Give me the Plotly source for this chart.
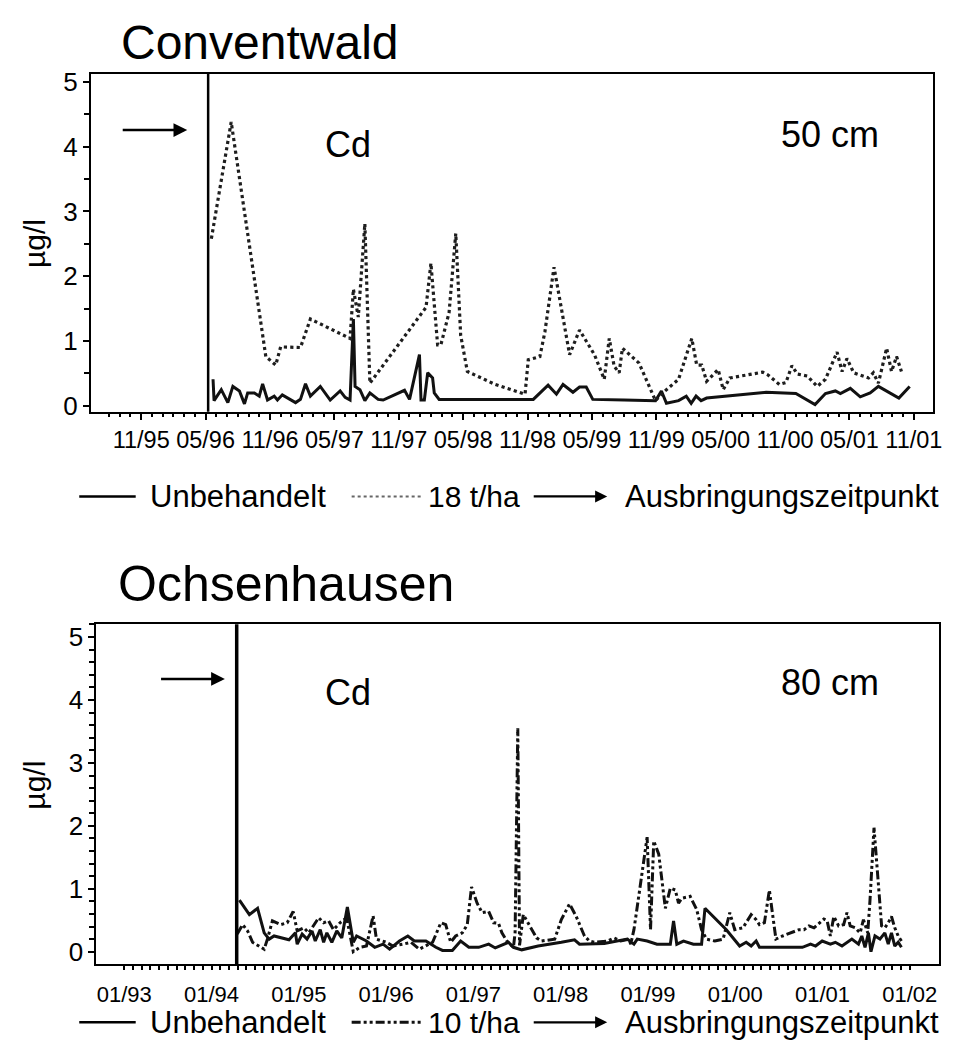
import plotly.graph_objects as go

# ---------------- data (decimal years, µg/l) ----------------
# Conventwald, 50 cm
cw_x_unbeh = [1996.391, 1996.399, 1996.455, 1996.506, 1996.545, 1996.596, 1996.635, 1996.660, 1996.712, 1996.750,
              1996.776, 1996.814, 1996.866, 1996.891, 1996.929, 1997.032, 1997.070, 1997.109, 1997.147, 1997.224,
              1997.301, 1997.378, 1997.417, 1997.455, 1997.481, 1997.494, 1997.532, 1997.570, 1997.609, 1997.673,
              1997.712, 1997.878, 1997.917, 1997.994, 1998.006, 1998.032, 1998.058, 1998.096, 1998.109, 1998.147,
              1998.878, 1998.993, 1999.058, 1999.109, 1999.186, 1999.237, 1999.289, 1999.340, 1999.583, 1999.827,
              1999.873, 1999.912, 2000.006, 2000.066, 2000.104, 2000.142, 2000.181, 2000.224, 2000.686, 2000.917,
              2001.066, 2001.147, 2001.224, 2001.263, 2001.340, 2001.417, 2001.494, 2001.558, 2001.717, 2001.801]
cw_y_unbeh = [0.41, 0.08, 0.25, 0.05, 0.30, 0.23, 0.03, 0.20, 0.20, 0.15,
              0.34, 0.09, 0.15, 0.09, 0.17, 0.05, 0.10, 0.34, 0.15, 0.30,
              0.09, 0.23, 0.13, 0.09, 1.34, 0.30, 0.25, 0.08, 0.20, 0.10,
              0.09, 0.24, 0.10, 0.79, 0.09, 0.09, 0.51, 0.43, 0.20, 0.10,
              0.10, 0.32, 0.18, 0.33, 0.21, 0.29, 0.29, 0.10, 0.09, 0.08,
              0.23, 0.04, 0.08, 0.15, 0.04, 0.15, 0.08, 0.12, 0.21, 0.19,
              0.02, 0.19, 0.23, 0.19, 0.27, 0.14, 0.20, 0.30, 0.12, 0.30]

cw_x_18 = [1996.378, 1996.532, 1996.801, 1996.878, 1996.916, 1997.070, 1997.147, 1997.455, 1997.481, 1997.519,
           1997.570, 1997.609, 1998.045, 1998.083, 1998.135, 1998.160, 1998.224, 1998.276, 1998.314, 1998.366,
           1998.583, 1998.737, 1998.814, 1998.839, 1998.929, 1998.968, 1999.039, 1999.160, 1999.237, 1999.353,
           1999.429, 1999.468, 1999.506, 1999.545, 1999.570, 1999.699, 1999.827, 1999.878, 2000.006, 2000.109,
           2000.147, 2000.186, 2000.224, 2000.314, 2000.353, 2000.404, 2000.660, 2000.699, 2000.789, 2000.840,
           2000.886, 2000.929, 2001.006, 2001.083, 2001.147, 2001.237, 2001.276, 2001.314, 2001.366, 2001.481,
           2001.519, 2001.558, 2001.622, 2001.660, 2001.699, 2001.737]
cw_y_18 = [2.58, 4.38, 0.76, 0.63, 0.91, 0.90, 1.34, 1.04, 1.80, 1.37,
           2.81, 0.35, 1.52, 2.20, 0.94, 0.94, 1.44, 2.66, 1.09, 0.53,
           0.33, 0.23, 0.18, 0.71, 0.76, 1.14, 2.14, 0.79, 1.17, 0.79,
           0.41, 1.04, 0.61, 0.51, 0.89, 0.66, 0.08, 0.19, 0.41, 1.04,
           0.63, 0.63, 0.38, 0.56, 0.25, 0.43, 0.52, 0.48, 0.33, 0.36,
           0.62, 0.49, 0.46, 0.30, 0.41, 0.83, 0.53, 0.73, 0.51, 0.43,
           0.51, 0.35, 0.89, 0.53, 0.76, 0.53]

cw_application = 1996.353
cw_tick_pos = [1995.8333, 1996.3333, 1996.8333, 1997.3333, 1997.8333, 1998.3333, 1998.8333,
               1999.3333, 1999.8333, 2000.3333, 2000.8333, 2001.3333, 2001.8333]
cw_tick_labels = ["11/95", "05/96", "11/96", "05/97", "11/97", "05/98", "11/98",
                  "05/99", "11/99", "05/00", "11/00", "05/01", "11/01"]

# Ochsenhausen, 80 cm
oh_x_unbeh = [1994.319, 1994.433, 1994.527, 1994.603, 1994.660, 1994.716, 1994.887, 1994.961, 1994.981, 1995.038,
              1995.094, 1995.151, 1995.188, 1995.245, 1995.284, 1995.321, 1995.378, 1995.435, 1995.492, 1995.556,
              1995.624, 1995.662, 1995.775, 1995.870, 1995.965, 1996.040, 1996.153, 1996.249, 1996.324, 1996.456,
              1996.570, 1996.646, 1996.759, 1996.854, 1996.948, 1997.061, 1997.175, 1997.251, 1997.402, 1997.459,
              1997.554, 1997.742, 1998.008, 1998.159, 1998.216, 1998.500, 1998.764, 1998.840, 1998.878, 1998.991,
              1999.104, 1999.257, 1999.294, 1999.331, 1999.408, 1999.521, 1999.615, 1999.654, 1999.899, 1999.975,
              2000.051, 2000.126, 2000.183, 2000.240, 2000.278, 2000.770, 2000.864, 2000.921, 2000.997, 2001.091,
              2001.148, 2001.224, 2001.337, 2001.413, 2001.451, 2001.488, 2001.527, 2001.556, 2001.602, 2001.659,
              2001.715, 2001.754, 2001.791, 2001.829, 2001.868, 2001.905]
oh_y_unbeh = [0.82, 0.59, 0.69, 0.30, 0.20, 0.25, 0.19, 0.30, 0.12, 0.28,
              0.20, 0.33, 0.17, 0.35, 0.15, 0.30, 0.15, 0.33, 0.22, 0.71,
              0.15, 0.25, 0.17, 0.07, 0.12, 0.04, 0.17, 0.25, 0.17, 0.17,
              0.07, 0.02, 0.02, 0.17, 0.07, 0.07, 0.12, 0.06, 0.15, 0.07,
              0.03, 0.09, 0.15, 0.19, 0.12, 0.13, 0.20, 0.12, 0.20, 0.17,
              0.12, 0.12, 0.49, 0.12, 0.17, 0.12, 0.12, 0.69, 0.35, 0.22,
              0.09, 0.15, 0.09, 0.17, 0.07, 0.07, 0.12, 0.09, 0.17, 0.12,
              0.15, 0.09, 0.20, 0.12, 0.25, 0.07, 0.30, 0.00, 0.25, 0.20,
              0.30, 0.12, 0.30, 0.09, 0.15, 0.07]

oh_x_10 = [1994.294, 1994.356, 1994.413, 1994.470, 1994.603, 1994.640, 1994.697, 1994.791, 1994.867, 1994.935,
           1994.981, 1995.057, 1995.114, 1995.227, 1995.284, 1995.341, 1995.397, 1995.472, 1995.548, 1995.624,
           1995.699, 1995.775, 1995.851, 1995.889, 1996.002, 1996.078, 1996.192, 1996.286, 1996.380, 1996.456,
           1996.533, 1996.627, 1996.683, 1996.740, 1996.797, 1996.873, 1996.930, 1996.979, 1997.043, 1997.100,
           1997.175, 1997.232, 1997.288, 1997.327, 1997.384, 1997.459, 1997.478, 1997.509, 1997.529, 1997.572,
           1997.611, 1997.724, 1997.781, 1997.932, 1998.008, 1998.102, 1998.178, 1998.273, 1998.329, 1998.386,
           1998.537, 1998.613, 1998.689, 1998.783, 1998.803, 1998.840, 1998.897, 1998.991, 1999.030, 1999.067,
           1999.124, 1999.200, 1999.257, 1999.314, 1999.351, 1999.388, 1999.484, 1999.559, 1999.615, 1999.672,
           1999.767, 1999.862, 1999.938, 1999.995, 2000.089, 2000.183, 2000.240, 2000.278, 2000.335, 2000.392,
           2000.429, 2000.467, 2000.543, 2000.732, 2000.789, 2000.846, 2000.903, 2001.016, 2001.054, 2001.091,
           2001.130, 2001.186, 2001.243, 2001.281, 2001.318, 2001.375, 2001.432, 2001.470, 2001.519, 2001.545,
           2001.591, 2001.641, 2001.678, 2001.715, 2001.754, 2001.791, 2001.829, 2001.868, 2001.905]
oh_y_10 = [0.28, 0.43, 0.33, 0.15, 0.04, 0.20, 0.49, 0.43, 0.46, 0.64,
           0.33, 0.38, 0.30, 0.54, 0.46, 0.49, 0.35, 0.46, 0.54, 0.00,
           0.07, 0.09, 0.57, 0.20, 0.15, 0.09, 0.12, 0.15, 0.04, 0.09,
           0.15, 0.46, 0.43, 0.15, 0.25, 0.30, 0.43, 1.03, 0.77, 0.62,
           0.64, 0.46, 0.45, 0.30, 0.17, 0.07, 0.30, 3.55, 0.10, 0.59,
           0.49, 0.22, 0.17, 0.20, 0.51, 0.76, 0.56, 0.25, 0.17, 0.15,
           0.17, 0.22, 0.17, 0.20, 0.12, 0.35, 0.90, 1.82, 0.35, 1.76,
           1.55, 0.69, 1.01, 0.98, 0.77, 0.85, 0.88, 0.67, 0.35, 0.20,
           0.17, 0.20, 0.62, 0.35, 0.38, 0.59, 0.51, 0.43, 0.46, 0.98,
           0.59, 0.20, 0.25, 0.35, 0.35, 0.41, 0.38, 0.52, 0.49, 0.25,
           0.56, 0.41, 0.43, 0.62, 0.41, 0.38, 0.30, 0.51, 0.30, 0.82,
           1.97, 1.03, 0.41, 0.38, 0.46, 0.56, 0.38, 0.25, 0.17]

oh_application = 1994.288
oh_tick_pos = [1993, 1994, 1995, 1996, 1997, 1998, 1999, 2000, 2001, 2002]
oh_tick_labels = ["01/93", "01/94", "01/95", "01/96", "01/97", "01/98", "01/99", "01/00", "01/01", "01/02"]

y_tick_vals = [0, 1, 2, 3, 4, 5]

# ---------------- figure ----------------
W, H = 955, 1052
FONT = "Arial, 'Liberation Sans', sans-serif"


def px(x):
    return x / W


def py(y):
    return 1 - y / H


fig = go.Figure()

fig.add_trace(go.Scatter(x=cw_x_unbeh, y=cw_y_unbeh, mode="lines", xaxis="x", yaxis="y",
                         line=dict(color="#111111", width=3), showlegend=False))
fig.add_trace(go.Scatter(x=cw_x_18, y=cw_y_18, mode="lines", xaxis="x", yaxis="y",
                         line=dict(color="#1e1e1e", width=3.2, dash="dot"), showlegend=False))
fig.add_trace(go.Scatter(x=oh_x_unbeh, y=oh_y_unbeh, mode="lines", xaxis="x2", yaxis="y2",
                         line=dict(color="#111111", width=3), showlegend=False))
fig.add_trace(go.Scatter(x=oh_x_10, y=oh_y_10, mode="lines", xaxis="x2", yaxis="y2",
                         line=dict(color="#111111", width=3, dash="9px,3px,3px,3px,3px,3px"),
                         showlegend=False))

# ticks for the top x axis: quarter-year majors (labelled every half year), monthly minors
cw_quarter = [1995.5833 + 0.25 * i for i in range(26)]
cw_major_vals = cw_tick_pos + [v for v in cw_quarter if min(abs(v - p) for p in cw_tick_pos) > 0.01]
cw_major_text = cw_tick_labels + [""] * (len(cw_major_vals) - len(cw_tick_labels))
cw_minor_vals = [1995.5833 + i / 12 for i in range(76)]

oh_minor_vals = [1993 + i / 10 for i in range(91)]

axis_common = dict(showline=True, mirror=True, linecolor="black", linewidth=2,
                   showgrid=False, zeroline=False, ticks="outside", tickcolor="black",
                   tickwidth=1.5, color="black")

fig.update_layout(
    width=W, height=H,
    margin=dict(l=0, r=0, t=0, b=0),
    paper_bgcolor="white", plot_bgcolor="white",
    font=dict(family=FONT, color="black"),
    xaxis=dict(domain=[px(91.7), px(942)], anchor="y", range=[1995.442, 2001.983],
               tickmode="array", tickvals=cw_major_vals, ticktext=cw_major_text, ticklen=6,
               tickfont=dict(size=23.5, family=FONT),
               minor=dict(tickmode="array", tickvals=cw_minor_vals, ticklen=3, ticks="outside",
                          tickcolor="black", tickwidth=1.5),
               **axis_common),
    yaxis=dict(domain=[py(411), py(68)], anchor="x", range=[-0.091, 5.122],
               tickmode="array", tickvals=y_tick_vals, ticklen=6,
               tickfont=dict(size=26, family=FONT),
               minor=dict(dtick=0.5, tick0=0, ticklen=5, ticks="outside",
                          tickcolor="black", tickwidth=1.5),
               **axis_common),
    xaxis2=dict(domain=[px(97.3), px(947.7)], anchor="y2", range=[1992.680, 2002.333],
                tickmode="array", tickvals=oh_tick_pos, ticktext=oh_tick_labels, ticklen=4,
                tickfont=dict(size=22, family=FONT), ticklabelstandoff=6,
                minor=dict(tickmode="array", tickvals=oh_minor_vals, ticklen=4, ticks="outside",
                           tickcolor="black", tickwidth=1.5),
                **axis_common),
    yaxis2=dict(domain=[py(971.7), py(626.7)], anchor="x2", range=[-0.194, 5.205],
                tickmode="array", tickvals=y_tick_vals, ticklen=6,
                tickfont=dict(size=26, family=FONT),
                minor=dict(dtick=0.2, tick0=0, ticklen=5, ticks="outside",
                           tickcolor="black", tickwidth=1.5),
                **axis_common),
)

shapes = []
# application lines
shapes.append(dict(type="line", xref="x", yref="y domain", x0=cw_application, x1=cw_application,
                   y0=0, y1=1, line=dict(color="black", width=2.5)))
shapes.append(dict(type="line", xref="x2", yref="y2 domain", x0=oh_application, x1=oh_application,
                   y0=0, y1=1, line=dict(color="black", width=3.5)))

annotations = []


def text(x, y, s, size, xanchor="left", textangle=0):
    annotations.append(dict(x=px(x), y=py(y), xref="paper", yref="paper", text=s, showarrow=False,
                            xanchor=xanchor, yanchor="middle", textangle=textangle,
                            font=dict(size=size, family=FONT, color="black")))


def arrow(x0, x1, y, width=2.5):
    annotations.append(dict(x=px(x1), y=py(y), xref="paper", yref="paper", text="", showarrow=True,
                            ax=-(x1 - x0), ay=0, axref="pixel", ayref="pixel",
                            arrowhead=2, arrowsize=1.1, arrowwidth=width, arrowcolor="black"))


# titles
text(120, 36, "Conventwald", 48)
text(117, 586, "Ochsenhausen", 50)
# in-plot labels
text(351.7, 140, "Cd", 36, "center")
text(838, 129, "50 cm", 36, "center")
text(351.7, 696, "Cd", 36, "center")
text(838, 686, "80 cm", 36, "center")
# y axis titles
text(35, 240, "µg/l", 30, "center", -90)
text(35, 790, "µg/l", 30, "center", -90)
# arrows inside plots
arrow(123, 189, 125)
arrow(161.7, 227, 682.3)


# legends
def legend_row(y, label2, dash2, color2, width2):
    shapes.append(dict(type="line", xref="paper", yref="paper", x0=px(80), x1=px(137), y0=py(y), y1=py(y),
                       line=dict(color="black", width=2.5)))
    text(149, y, "Unbehandelt", 31)
    shapes.append(dict(type="line", xref="paper", yref="paper", x0=px(355), x1=px(425), y0=py(y), y1=py(y),
                       line=dict(color=color2, width=width2, dash=dash2)))
    text(430, y, label2, 30)
    arrow(538, 613, y, 2.2)
    text(629, y, "Ausbringungszeitpunkt", 31)


legend_row(497, "18 t/ha", "dot", "#666666", 2)
legend_row(1031, "10 t/ha", "9px,3px,3px,3px,3px,3px", "#111111", 3)

fig.update_layout(shapes=shapes, annotations=annotations)

fig.write_html("out.html")
